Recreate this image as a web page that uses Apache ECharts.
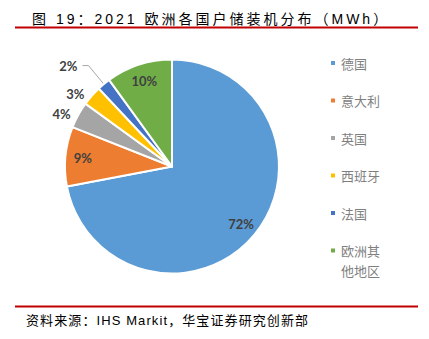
<!DOCTYPE html>
<html>
<head>
<meta charset="utf-8">
<script src="https://cdn.jsdelivr.net/npm/echarts@6/dist/echarts.min.js"></script>
<style>
  html, body { margin: 0; padding: 0; background: #fff; }
  #chart { width: 429px; height: 339px; }
</style>
</head>
<body>
<div id="chart"></div>
<script>
// 2021 European residential storage installations by country (MWh share)
const countries = ['德国', '意大利', '英国', '西班牙', '法国', '欧洲其他地区'];
const shares = [72, 9, 4, 3, 2, 10];
const colors = ['#5B9BD5', '#ED7D31', '#A5A5A5', '#FFC000', '#4472C4', '#70AD47'];
// slices whose percentage sits inside the pie; the rest are labelled outside
const insideLabelled = ['德国', '意大利', '欧洲其他地区'];
const leaderLined = ['法国'];

const titleText = '图 19：2021 欧洲各国户储装机分布（MWh）';
const sourceText = '资料来源：IHS Markit，华宝证券研究创新部';

const CX = 172, CY = 166.5, R = 107;
const cjkFont = '"Liberation Sans", "Noto Sans CJK SC", sans-serif';
const labelFont = { fontFamily: 'Lato, "Open Sans", sans-serif', fontWeight: 'bold', fontSize: 13, color: '#404040' };

const mainData = countries.map((name, i) => {
  const inside = insideLabelled.includes(name);
  const lined = leaderLined.includes(name);
  return {
    name,
    value: shares[i],
    itemStyle: { color: colors[i] },
    label: inside ? { show: false } : Object.assign({ show: true, position: 'outside', formatter: '{c}%' }, labelFont),
    labelLine: lined
      ? { show: true, length: 24, length2: 6, lineStyle: { color: '#A6A6A6', width: 1 } }
      : { show: false, length: 3, length2: 0 }
  };
});

// transparent ring carrying the in-slice percentages further out toward the rim
const ringData = countries.map((name, i) => ({
  name,
  value: shares[i],
  itemStyle: { color: 'rgba(0,0,0,0)', borderWidth: 0 },
  label: insideLabelled.includes(name)
    ? Object.assign({ show: true, position: 'inside', formatter: '{c}%' }, labelFont)
    : { show: false }
}));

// single-line legend names go in one column; the wrapped name gets its own legend
// whose tall marker box keeps the square beside the first line
const shortNames = countries.filter(n => n.length <= 3);
const longNames = countries.filter(n => n.length > 3);
const topSquareIcon = 'path://M0,0h6v6h-6z M5.99,25.99h0.01v0.01h-0.01z';

const legendBase = {
  orient: 'vertical',
  left: 329,
  padding: 0,
  icon: 'rect',
  itemWidth: 6, itemHeight: 6,
  itemGap: 17.5,
  formatter: name => name.length > 3 ? name.slice(0, 3) + '\n' + name.slice(3) : name,
  textStyle: { fontFamily: '"Noto Sans CJK SC", sans-serif', fontSize: 13, color: '#7F7F7F', lineHeight: 20 }
};

const chart = echarts.init(document.getElementById('chart'), null, { renderer: 'svg' });
chart.setOption({
  animation: false,
  backgroundColor: '#ffffff',
  title: {
    text: titleText,
    left: 27, top: 7,
    textStyle: { fontFamily: cjkFont, fontSize: 14, fontWeight: 'normal', color: '#000' }
  },
  legend: [
    Object.assign({}, legendBase, { top: 53, data: shortNames }),
    Object.assign({}, legendBase, {
      top: 240.5,
      itemHeight: 26,
      data: longNames.map(name => ({ name, icon: topSquareIcon }))
    })
  ],
  graphic: [
    { type: 'rect', shape: { x: 15, y: 26.5, width: 403, height: 2 }, style: { fill: '#C00000' } },
    { type: 'rect', shape: { x: 15, y: 305.5, width: 403, height: 2 }, style: { fill: '#C00000' } },
    { type: 'text', left: 26, top: 314, style: { text: sourceText, fontFamily: cjkFont, fontSize: 13, fill: '#000' } }
  ],
  series: [
    {
      type: 'pie',
      center: [CX, CY],
      radius: [0, R],
      startAngle: 90,
      clockwise: true,
      avoidLabelOverlap: false,
      silent: true,
      itemStyle: { borderColor: '#fff', borderWidth: 2 },
      data: mainData
    },
    {
      type: 'pie',
      center: [CX, CY],
      radius: [R * 0.62, R],
      startAngle: 90,
      clockwise: true,
      avoidLabelOverlap: false,
      silent: true,
      z: 3,
      data: ringData
    }
  ]
});

// spaced-out lettering for the heading and the source line
const spacing = { [titleText]: '3px', [sourceText]: '1.1px' };
document.querySelectorAll('#chart svg text').forEach(t => {
  const s = spacing[t.textContent];
  if (s) t.style.letterSpacing = s;
});
</script>
</body>
</html>
